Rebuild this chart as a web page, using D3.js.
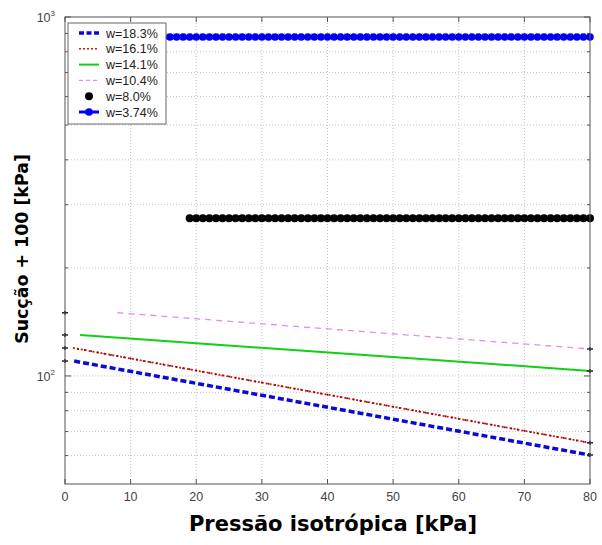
<!DOCTYPE html>
<html>
<head>
<meta charset="utf-8">
<script src="https://cdn.jsdelivr.net/npm/d3@7"></script>
<style>
  body { margin: 0; background: #fff; }
  svg { display: block; font-family: "Liberation Sans", Arial, sans-serif; }
</style>
</head>
<body>
<div id="chart"></div>
<script>
// pressão isotrópica [kPa] ticks
var xTicks = [0, 10, 20, 30, 40, 50, 60, 70, 80];
var yMajor = [100, 1000];
var yMinor = [60, 70, 80, 90, 200, 300, 400, 500, 600, 700, 800, 900];

// straight lines: [pressão, sucção+100]
var w183 = [[1.4, 110], [80, 60.2]];
var w161 = [[1.2, 119.7], [80, 65.1]];
var w141 = [[2.3, 130], [80, 103.3]];
var w104 = [[8, 150], [80, 118.9]];

// constant series with markers every 1 kPa
var w80x = [19, 20, 21, 22, 23, 24, 25, 26, 27, 28, 29, 30, 31, 32, 33, 34, 35, 36, 37, 38, 39, 40,
  41, 42, 43, 44, 45, 46, 47, 48, 49, 50, 51, 52, 53, 54, 55, 56, 57, 58, 59, 60,
  61, 62, 63, 64, 65, 66, 67, 68, 69, 70, 71, 72, 73, 74, 75, 76, 77, 78, 79, 80];
var w80level = 275;
var w374x = [15, 16, 17, 18, 19, 20,
  21, 22, 23, 24, 25, 26, 27, 28, 29, 30, 31, 32, 33, 34, 35, 36, 37, 38, 39, 40,
  41, 42, 43, 44, 45, 46, 47, 48, 49, 50, 51, 52, 53, 54, 55, 56, 57, 58, 59, 60,
  61, 62, 63, 64, 65, 66, 67, 68, 69, 70, 71, 72, 73, 74, 75, 76, 77, 78, 79, 80];
var w374level = 880;

var legendLabels = ["w=18.3%", "w=16.1%", "w=14.1%", "w=10.4%", "w=8.0%", "w=3.74%"];

var W = 602, H = 545;
var m = {left: 65, top: 17, right: 12, bottom: 61};
var pw = W - m.left - m.right, ph = H - m.top - m.bottom;

var svg = d3.select("#chart").append("svg").attr("width", W).attr("height", H);
svg.append("rect").attr("width", W).attr("height", H).attr("fill", "#fff");
var g = svg.append("g").attr("transform", "translate(" + m.left + "," + m.top + ")");

var x = d3.scaleLinear().domain([0, 80]).range([0, pw]);
var y = d3.scaleLog().domain([50, 1000]).range([ph, 0]);

// grid
g.selectAll(".vgrid").data(xTicks.slice(1, -1)).enter().append("line")
  .attr("x1", x).attr("x2", x).attr("y1", 0).attr("y2", ph)
  .attr("stroke", "#c4c4c4").attr("stroke-dasharray", "1,2");
g.selectAll(".hgrid").data(yMinor.concat([100])).enter().append("line")
  .attr("x1", 0).attr("x2", pw).attr("y1", y).attr("y2", y)
  .attr("stroke", "#c4c4c4").attr("stroke-dasharray", "1,2");

// ticks (inward, all sides)
var axisCol = "#555";
g.selectAll(".xtb").data(xTicks).enter().append("line")
  .attr("x1", x).attr("x2", x).attr("y1", ph).attr("y2", ph - 5).attr("stroke", axisCol);
g.selectAll(".xtt").data(xTicks).enter().append("line")
  .attr("x1", x).attr("x2", x).attr("y1", 0).attr("y2", 5).attr("stroke", axisCol);
[[yMajor, 6], [yMinor, 3]].forEach(function (t) {
  g.selectAll(null).data(t[0]).enter().append("line")
    .attr("x1", 0).attr("x2", t[1]).attr("y1", y).attr("y2", y).attr("stroke", axisCol);
  g.selectAll(null).data(t[0]).enter().append("line")
    .attr("x1", pw).attr("x2", pw - t[1]).attr("y1", y).attr("y2", y).attr("stroke", axisCol);
});

// tick labels
g.selectAll(".xl").data(xTicks).enter().append("text")
  .attr("x", x).attr("y", ph + 17).attr("text-anchor", "middle")
  .attr("font-size", 12.5).attr("fill", "#444").text(function (d) { return d; });
var yl = g.selectAll(".yl").data(yMajor).enter().append("text")
  .attr("x", -10).attr("y", function (d) { return y(d) + 5; }).attr("text-anchor", "end")
  .attr("font-size", 12.5).attr("fill", "#444");
yl.append("tspan").text("10");
yl.append("tspan").attr("dy", -6).attr("font-size", 8).text(function (d) { return Math.round(Math.log10(d)); });

// lines
var line = d3.line().x(function (d) { return x(d[0]); }).y(function (d) { return y(d[1]); });
var lines = [
  {data: w183, color: "#0a0ad8", width: 3.5, dash: "6,3"},
  {data: w161, color: "#d01818", width: 1.8, dash: "2,2"},
  {data: w141, color: "#10d010", width: 2, dash: null},
  {data: w104, color: "#e090e0", width: 1.3, dash: "6,5"}
];
lines.forEach(function (s) {
  g.append("path").attr("d", line(s.data)).attr("fill", "none")
    .attr("stroke", s.color).attr("stroke-width", s.width)
    .attr("stroke-dasharray", s.dash);
});
// small dark points on the red dotted line, one per kPa
var redX = w80x.filter(function (d) { return d <= 18; });
var red = d3.scaleLinear().domain([w161[0][0], w161[1][0]]).range([Math.log10(w161[0][1]), Math.log10(w161[1][1])]);
g.selectAll(".rdot").data([2, 3, 4, 5, 6, 7, 8, 9, 10, 11, 12, 13, 14].concat(w374x)).enter().append("circle")
  .attr("cx", x).attr("cy", function (d) { return y(Math.pow(10, red(d))); })
  .attr("r", 1).attr("fill", "#801010");

// black crosses at axis ends of each line
lines.forEach(function (s) {
  [[0, s.data[0][1]], [80, s.data[1][1]]].forEach(function (p) {
    var cx = x(p[0]), cy = y(p[1]);
    g.append("path").attr("d", "M" + (cx - 3) + "," + cy + "H" + (cx + 3) + "M" + cx + "," + (cy - 2) + "V" + (cy + 2))
      .attr("stroke", "#222").attr("stroke-width", 1.5);
  });
});

// w=8.0% black dots
g.selectAll(".bdot").data(w80x).enter().append("circle")
  .attr("cx", x).attr("cy", y(w80level)).attr("r", 4).attr("fill", "#000");

// w=3.74% blue line with markers
g.append("line").attr("x1", x(w374x[0])).attr("x2", x(w374x[w374x.length - 1]))
  .attr("y1", y(w374level)).attr("y2", y(w374level))
  .attr("stroke", "#0000ff").attr("stroke-width", 3);
g.selectAll(".bl").data(w374x).enter().append("circle")
  .attr("cx", x).attr("cy", y(w374level)).attr("r", 3.8).attr("fill", "#0000ee");

// frame
g.append("rect").attr("width", pw).attr("height", ph).attr("fill", "none")
  .attr("stroke", axisCol).attr("stroke-width", 1);

// legend
var lg = svg.append("g").attr("transform", "translate(68,23)");
lg.append("rect").attr("width", 98).attr("height", 101).attr("fill", "#fff").attr("stroke", "#666");
var styles = [
  {color: "#0a0ad8", width: 3.5, dash: "5,2.5"},
  {color: "#d01818", width: 1.5, dash: "2,2"},
  {color: "#10d010", width: 2, dash: null},
  {color: "#e090e0", width: 1.3, dash: "4,3"},
  {color: "#000", width: 0, dash: null, dot: 4},
  {color: "#0000ff", width: 3, dash: null, dot: 3.8}
];
legendLabels.forEach(function (t, i) {
  var cy = 10 + i * 15.8, s = styles[i];
  if (s.width > 0) {
    lg.append("line").attr("x1", 11).attr("x2", 31).attr("y1", cy).attr("y2", cy)
      .attr("stroke", s.color).attr("stroke-width", s.width).attr("stroke-dasharray", s.dash);
  }
  if (s.dot) lg.append("circle").attr("cx", 21).attr("cy", cy).attr("r", s.dot).attr("fill", s.color);
  lg.append("text").attr("x", 38).attr("y", cy + 4.5).attr("font-size", 12.5).attr("fill", "#222").text(t);
});

// axis titles
svg.append("text").attr("x", 333).attr("y", 531).attr("text-anchor", "middle")
  .attr("font-family", "DejaVu Sans").attr("font-weight", "bold").attr("font-size", 21)
  .attr("fill", "#000").text("Pressão isotrópica [kPa]");
svg.append("text").attr("transform", "translate(28,249) rotate(-90)").attr("text-anchor", "middle")
  .attr("font-family", "DejaVu Sans").attr("font-weight", "bold").attr("font-size", 17.4)
  .attr("fill", "#000").text("Sucção + 100 [kPa]");
</script>
</body>
</html>
